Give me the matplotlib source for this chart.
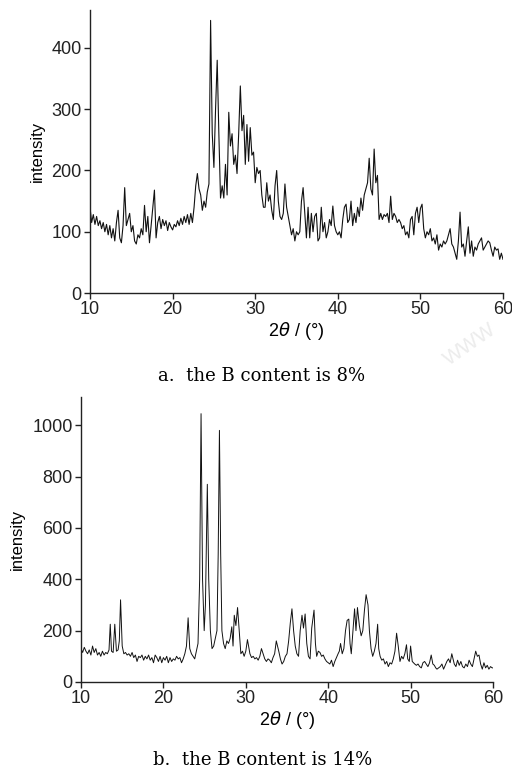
import numpy as np
import matplotlib
matplotlib.use("Agg")
import matplotlib.pyplot as plt

# ---------------- data ----------------
# panel a: 2theta sampled every 0.2 deg from 10 to 60
two_theta_a = np.linspace(10, 60, 251)
intensity_a = [
    140, 115, 128, 112, 125, 110, 118, 105, 115, 100,
    112, 95, 110, 90, 105, 85, 115, 135, 90, 82,
    110, 172, 110, 120, 130, 100, 110, 85, 80, 95,
    90, 105, 95, 143, 100, 125, 82, 110, 140, 168,
    90, 115, 125, 105, 120, 110, 118, 102, 115, 108,
    103, 112, 108, 118, 110, 122, 112, 125, 115, 128,
    112, 130, 115, 140, 175, 195, 170, 160, 135, 150,
    140, 165, 178, 445, 260, 205, 300, 380, 260, 155,
    175, 155, 210, 160, 295, 240, 260, 210, 225, 195,
    260, 338, 265, 290, 210, 275, 215, 270, 225, 230,
    180, 205, 195, 200, 160, 140, 140, 180, 150, 160,
    135, 120, 175, 200, 150, 125, 120, 130, 178, 140,
    125, 110, 95, 105, 85, 100, 95, 100, 150, 172,
    130, 90, 140, 90, 130, 100, 125, 130, 85, 90,
    140, 100, 115, 90, 100, 120, 110, 142, 110, 100,
    95, 100, 90, 120, 140, 145, 115, 120, 150, 110,
    130, 115, 140, 125, 155, 135, 160, 170, 180, 220,
    170, 160, 235, 180, 192, 120, 130, 120, 128, 125,
    130, 115, 158, 120, 130, 125, 115, 120, 115, 105,
    110, 95, 100, 90, 120, 125, 95, 130, 140, 115,
    138, 145, 105, 90, 100, 95, 105, 85, 90, 80,
    95, 70, 80, 75, 85, 80, 85, 95, 105, 80,
    75, 65, 55, 85, 132, 75, 80, 60, 85, 108,
    65, 85, 60, 75, 70, 80, 85, 90, 70, 75,
    80, 85, 82, 70, 60, 75, 70, 72, 55, 65,
    55,
]

two_theta_b = [
    10.0, 10.2, 10.4, 10.6, 10.8, 11.0, 11.2, 11.4, 11.6, 11.8,
    12.0, 12.2, 12.4, 12.6, 12.8, 13.0, 13.2, 13.4, 13.55, 13.7,
    13.9, 14.1, 14.3, 14.5, 14.65, 14.8, 15.0, 15.2, 15.4, 15.6,
    15.8, 16.0, 16.2, 16.4, 16.6, 16.8, 17.0, 17.2, 17.4, 17.6,
    17.8, 18.0, 18.2, 18.4, 18.6, 18.8, 19.0, 19.2, 19.4, 19.6,
    19.8, 20.0, 20.2, 20.4, 20.6, 20.8, 21.0, 21.2, 21.4, 21.6,
    21.8, 22.0, 22.2, 22.4, 22.6, 22.8, 23.0, 23.2, 23.4, 23.6,
    23.8, 24.0, 24.2, 24.4, 24.57, 24.75, 24.95, 25.1, 25.33, 25.5,
    25.7, 25.9, 26.1, 26.3, 26.5, 26.65, 26.8, 26.95, 27.1, 27.3,
    27.5, 27.7, 27.9, 28.1, 28.3, 28.45, 28.6, 28.8, 29.0, 29.2,
    29.4, 29.6, 29.8, 30.0, 30.2, 30.5, 30.7, 30.9, 31.1, 31.3,
    31.5, 31.7, 31.9, 32.1, 32.3, 32.5, 32.7, 32.9, 33.1, 33.3,
    33.5, 33.7, 34.0, 34.2, 34.4, 34.6, 34.8, 35.0, 35.2, 35.4,
    35.6, 35.8, 36.0, 36.2, 36.4, 36.6, 36.82, 37.0, 37.2, 37.4,
    37.6, 37.8, 38.0, 38.28, 38.45, 38.6, 38.8, 39.0, 39.2, 39.4,
    39.6, 39.8, 40.0, 40.2, 40.4, 40.6, 40.8, 41.0, 41.2, 41.35,
    41.5, 41.7, 41.9, 42.1, 42.3, 42.5, 42.65, 42.8, 43.0, 43.2,
    43.37, 43.55, 43.78, 44.0, 44.2, 44.4, 44.6, 44.83, 45.0, 45.2,
    45.4, 45.6, 45.8, 46.0, 46.13, 46.3, 46.5, 46.7, 46.9, 47.1,
    47.3, 47.5, 47.7, 47.9, 48.1, 48.3, 48.5, 48.71, 48.9, 49.1,
    49.3, 49.5, 49.65, 49.84, 50.0, 50.2, 50.5, 50.7, 50.9, 51.1,
    51.3, 51.5, 51.7, 51.9, 52.1, 52.3, 52.5, 52.7, 52.88, 53.05,
    53.2, 53.4, 53.6, 53.8, 54.0, 54.2, 54.4, 54.6, 54.8, 55.0,
    55.3, 55.5, 55.7, 55.9, 56.1, 56.3, 56.5, 56.7, 56.9, 57.1,
    57.3, 57.5, 57.7, 57.9, 58.1, 58.3, 58.5, 58.7, 58.9, 59.1,
    59.3, 59.5, 59.7, 59.9, 60.0,
]
intensity_b = [
    130, 115, 135, 120, 110, 125, 105, 140, 115, 130,
    105, 115, 100, 120, 105, 115, 110, 125, 225, 120,
    115, 225, 120, 125, 160, 320, 140, 110, 115, 105,
    110, 100, 115, 95, 105, 80, 100, 95, 105, 85,
    100, 90, 105, 85, 95, 75, 105, 95, 80, 100,
    75, 95, 85, 100, 75, 95, 80, 90, 85, 100,
    90, 95, 75, 90, 110, 140, 250, 130, 110, 100,
    90, 120, 150, 400, 1045, 400, 200, 300, 770, 400,
    200, 130, 140, 170, 200, 500, 980, 500, 200, 150,
    130, 160, 150, 170, 215, 140, 260, 220, 290, 200,
    110, 120, 100, 120, 165, 110, 95, 100, 90, 95,
    85, 100, 130, 110, 90, 80, 90, 85, 75, 95,
    110, 160, 120, 90, 70, 80, 100, 110, 160, 230,
    285, 200, 140, 110, 100, 200, 260, 210, 265, 150,
    100, 90, 210, 280, 150, 100, 120, 115, 100, 105,
    90, 80, 75, 70, 85, 60, 80, 95, 110, 120,
    150, 110, 130, 200, 240, 245, 150, 110, 200, 285,
    200, 290, 220, 180, 200, 280, 340, 300, 200, 130,
    100, 120, 150, 225, 130, 100, 85, 90, 70, 80,
    60, 75, 70, 90, 120, 190, 140, 80, 100, 90,
    110, 145, 90, 80, 140, 80, 70, 65, 70, 60,
    55, 75, 80, 70, 60, 75, 105, 70, 65, 55,
    50, 55, 60, 70, 50, 65, 80, 90, 75, 110,
    70, 60, 85, 65, 80, 60, 55, 70, 60, 85,
    70, 60, 90, 120, 100, 105, 70, 50, 75, 55,
    65, 50, 60, 55, 55,
]

yticks_a = [0, 100, 200, 300, 400]
yticks_b = [0, 200, 400, 600, 800, 1000]
xticks = [10, 20, 30, 40, 50, 60]
caption_a = "a.  the B content is 8%"
caption_b = "b.  the B content is 14%"

# ---------------- plotting ----------------
plt.rcParams['font.family'] = ['Liberation Sans Narrow', 'Liberation Sans', 'DejaVu Sans']
fig = plt.figure(figsize=(5.12, 7.72), dpi=100)
W, H = 512, 772


def make_axes(left, right, top, bottom):
    return fig.add_axes([left / W, 1 - bottom / H, (right - left) / W, (bottom - top) / H])


def style(ax, yticks, ytop):
    ax.set_xlim(10, 60)
    ax.set_ylim(0, ytop)
    ax.set_xticks(xticks)
    ax.set_yticks(yticks)
    for s in ('top', 'right'):
        ax.spines[s].set_visible(False)
    for s in ('left', 'bottom'):
        ax.spines[s].set_linewidth(1.0)
        ax.spines[s].set_color('#222222')
    ax.tick_params(direction='out', length=4, width=1.0, labelsize=13,
                   colors='#222222', pad=2)
    ax.set_ylabel('intensity', fontsize=12, labelpad=5)
    ax.set_xlabel(r'2$\theta$ / (°)', fontsize=13, labelpad=1)


ax1 = make_axes(90, 503, 10, 293)
ax1.plot(two_theta_a, intensity_a, color='#111111', lw=0.8)
style(ax1, yticks_a, 462)

ax2 = make_axes(81, 493, 397, 682)
ax2.plot(two_theta_b, intensity_b, color='#111111', lw=0.7)
style(ax2, yticks_b, 1110)

fig.text(262 / W, 1 - 376 / H, caption_a, ha='center', va='center',
         fontsize=13, family='DejaVu Serif')
fig.text(263 / W, 1 - 760 / H, caption_b, ha='center', va='center',
         fontsize=13, family='DejaVu Serif')
fig.text(470 / W, 1 - 345 / H, 'WWW', ha='center', va='center', rotation=35,
         fontsize=15, color='#ececec')

fig.savefig('out.png', dpi=100)
